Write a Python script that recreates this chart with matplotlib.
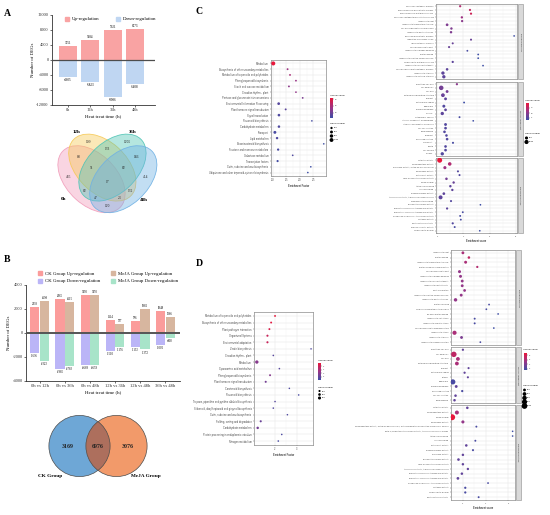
import numpy as np
import matplotlib
matplotlib.use('Agg')
import matplotlib.pyplot as plt
from matplotlib.patches import Ellipse, Circle, Rectangle, Patch
from matplotlib.colors import LinearSegmentedColormap

plt.rcParams['axes.unicode_minus'] = False
SERIF = ['Liberation Serif', 'DejaVu Serif']
SANS = ['Liberation Sans', 'DejaVu Sans']
plt.rcParams['font.family'] = SANS

# ------------------------------------------------------------------ data
# Panel A
a_times = ['0h', '12h', '36h', '48h']
a_up = [3751, 5184, 7921, 8173]
a_down = [-4605, -5823, -9986, -6408]
a_yticks = [-12000, -8000, -4000, 0, 4000, 8000, 12000]

# Panel A Venn (region code: 0h,12h,36h,48h)
venn4_names = ['0h', '12h', '36h', '48h']
venn4_regions = ['1000', '0100', '0010', '0001', '1100', '0110', '0011', '1110',
                 '0111', '1111', '1010', '0101', '1011', '1101', '1001']
venn4_counts = [455, 199, 1205, 414, 88, 133, 186, 51, 82, 17, 82, 132, 47, 23, 120]

# Panel B
b_pairs = ['0h vs 12h', '0h vs 36h', '0h vs 48h', '12h vs 36h', '12h vs 48h', '36h vs 48h']
b_ck_up = [2138, 2865, 3150, 1114, 976, 1848]
b_meja_up = [2698, 2615, 3170, 737, 1982, 1366]
b_ck_down = [-1636, -2985, -2668, -1510, -1133, -1002]
b_meja_down = [-2323, -2783, -2659, -1176, -1372, -408]
b_yticks = [-4000, -2000, 0, 2000, 4000]

# Panel B Venn
venn2_names = ['CK Group', 'MeJA Group']
venn2_counts = [3169, 6976, 3076]

# Panel C left (KEGG)
cl_terms = ['Metabolism', 'Biosynthesis of other secondary metabolites',
            'Metabolism of terpenoids and polyketides', 'Phenylpropanoid biosynthesis',
            'Starch and sucrose metabolism', 'Circadian rhythm - plant',
            'Pentose and glucuronate interconversions', 'Environmental Information Processing',
            'Plant hormone signal transduction', 'Signal transduction', 'Flavonoid biosynthesis',
            'Carbohydrate metabolism', 'Transport', 'Lipid metabolism',
            'Brassinosteroid biosynthesis', 'Fructose and mannose metabolism',
            'Galactose metabolism', 'Transcription factors',
            'Cutin, suberine and wax biosynthesis',
            'Ubiquinone and other terpenoid-quinone biosynthesis']
cl_factor = [1.01, 1.54, 1.63, 1.85, 1.59, 1.85, 2.10, 1.21, 1.47, 1.22,
             2.44, 1.22, 1.07, 1.15, 2.88, 1.19, 1.73, 1.17, 2.40, 2.29]
cl_logp = [32, 18, 20, 17, 15, 16, 12, 6, 7, 5, 3, 5, 4, 5, 2, 4, 5, 3, 2, 2]
cl_genes = [1300, 150, 130, 120, 140, 90, 110, 500, 160, 450, 60, 400, 600, 350, 50, 300, 80, 250, 60, 70]
cl_xticks = [1.0, 1.5, 2.0, 2.5]
cl_gene_legend = [300, 600, 900, 1200]

# Panel C right (GO)
cr_bp_terms = ['secondary metabolic process', 'phenylpropanoid biosynthetic process',
               'phenylpropanoid metabolic process', 'secondary metabolite biosynthetic process',
               'response to heat', 'response to temperature stimulus',
               'cell wall organization or biogenesis', 'response to abiotic stimulus',
               'flavonoid biosynthetic process', 'regulation of hormone levels',
               'lignin metabolic process', 'cellular response to heat',
               'response to hydrogen peroxide', 'protein folding',
               'response to reactive oxygen species', 'carbohydrate metabolic process',
               'response to high light intensity', 'cellular carbohydrate metabolic process',
               'response to stimulus', 'response to external stimulus']
cr_bp_score = [3.75, 4.5, 4.58, 3.88, 3.9, 2.75, 3.08, 3.05, 7.88, 4.58,
               3.18, 2.9, 4.3, 5.13, 5.13, 3.18, 5.5, 2.75, 2.43, 2.5]
cr_bp_logp = [14, 16, 17, 12, 10, 9, 9, 9, 3, 7, 7, 7, 4, 3, 3, 6, 3, 6, 6, 6]
cr_bp_genes = [200, 180, 190, 230, 210, 350, 250, 260, 60, 150, 140, 160, 90, 80, 80, 200, 70, 300, 600, 600]
cr_cc_terms = ['plant-type cell wall', 'cell periphery', 'cell wall',
               'external encapsulating structure', 'apoplast', 'extracellular region',
               'membrane', 'plasma membrane', 'vacuole', 'cytoplasmic vesicle',
               'intrinsic component of membrane', 'integral component of membrane',
               'cell-cell junction', 'plasmodesma', 'symplast', 'anchoring junction',
               'chloroplast', 'plastid', 'cell surface', 'nucleus']
cr_cc_score = [3.5, 2.3, 2.75, 2.43, 2.63, 4.05, 2.5, 2.63, 2.38, 3.7,
               4.75, 2.63, 2.63, 2.55, 2.7, 2.75, 3.2, 2.63, 2.63, 2.38]
cr_cc_logp = [10, 8, 8, 7, 6, 3, 5, 6, 6, 4, 3, 5, 5, 5, 5, 5, 4, 5, 5, 5]
cr_cc_genes = [200, 1200, 400, 800, 400, 100, 450, 350, 600, 120, 60, 400, 350, 330, 300, 320, 150, 330, 350, 600]
cr_mf_terms = ['catalytic activity', 'oxidoreductase activity',
               'hydrolase activity, acting on glycosyl bonds', 'peroxidase activity',
               'antioxidant activity', 'UDP-glycosyltransferase activity', 'heme binding',
               'tetrapyrrole binding', 'iron ion binding', 'monooxygenase activity',
               'transferase activity, transferring hexosyl groups', 'unfolded protein binding',
               'glucosyltransferase activity', 'quercetin 3-O-glucosyltransferase activity',
               'quercetin 7-O-glucosyltransferase activity',
               'xyloglucan:xyloglucosyl transferase activity', 'chitinase activity',
               'pectinesterase activity', 'enzyme inhibitor activity', 'carbohydrate binding']
cr_mf_score = [2.18, 2.95, 2.58, 3.58, 3.7, 2.7, 3.25, 3.0, 3.15, 2.5,
               2.25, 3.05, 5.3, 2.75, 3.95, 3.75, 3.8, 3.18, 3.33, 5.25]
cr_mf_logp = [20, 14, 12, 5, 5, 8, 7, 6, 6, 6, 6, 5, 3, 6, 4, 4, 4, 5, 4, 3]
cr_mf_genes = [1500, 700, 500, 150, 140, 300, 250, 260, 240, 350, 900, 150, 60, 200, 100, 110, 100, 180, 120, 60]
cr_xticks = [2, 4, 6, 8]
cr_gene_legend = [500, 1000]

# Panel D left (KEGG)
dl_terms = ['Metabolism of terpenoids and polyketides', 'Biosynthesis of other secondary metabolites',
            'Plant-pathogen interaction', 'Organismal Systems', 'Environmental adaptation',
            'Zeatin biosynthesis', 'Circadian rhythm - plant', 'Metabolism',
            'Cyanoamino acid metabolism', 'Phenylpropanoid biosynthesis',
            'Plant hormone signal transduction', 'Carotenoid biosynthesis',
            'Flavonoid biosynthesis', 'Tropane, piperidine and pyridine alkaloid biosynthesis',
            'Stilbenoid, diarylheptanoid and gingerol biosynthesis',
            'Cutin, suberine and wax biosynthesis', 'Folding, sorting and degradation',
            'Carbohydrate metabolism', 'Protein processing in endoplasmic reticulum',
            'Nitrogen metabolism']
dl_factor = [2.0, 1.82, 1.74, 1.65, 1.65, 3.66, 1.92, 1.16, 2.2, 1.77,
             1.57, 2.66, 3.09, 2.0, 1.92, 2.57, 1.34, 1.2, 2.31, 2.15]
dl_logp = [6, 5.8, 5.5, 5, 5, 1.5, 1.7, 3, 1.7, 3, 2.5, 1.5, 1.3, 1.7, 1.6, 1.5, 2.2, 2.5, 1.4, 1.3]
dl_genes = [120, 140, 150, 200, 200, 30, 60, 750, 60, 150, 180, 40, 40, 50, 50, 40, 200, 330, 50, 60]
dl_xticks = [2, 3]
dl_gene_legend = [200, 400, 600]

# Panel D right (GO)
dr_bp_terms = ['response to heat', 'protein folding', 'response to temperature stimulus',
               'protein complex oligomerization', 'cellular response to heat',
               'response to hydrogen peroxide', 'response to high light intensity',
               'response to light intensity', 'heat acclimation',
               'response to reactive oxygen species', 'response to abiotic stimulus',
               'protein refolding', 'chaperone-mediated protein folding',
               'de novo protein folding', 'response to salt stress',
               'response to osmotic stress', 'cellular response to unfolded protein',
               'response to stress', 'response to stimulus', 'response to misfolded protein']
dr_bp_score = [2.0, 2.53, 2.24, 3.27, 1.70, 1.79, 1.94, 1.94, 2.15, 1.85,
               1.35, 4.31, 4.07, 5.11, 3.04, 3.04, 4.73, 1.26, 1.88, 3.54]
dr_bp_logp = [6, 7, 6, 6.5, 5, 5, 5, 5, 5, 5, 5, 2, 2, 1.5, 2, 2, 1.5, 6, 4, 2]
dr_bp_genes = [200, 150, 220, 100, 230, 220, 200, 200, 180, 210, 320, 40, 40, 30, 60, 60, 30, 500, 200, 40]
dr_cc_terms = ['plant-type cell wall', 'cell periphery', 'cell wall',
               'external encapsulating structure', 'apoplast', 'extracellular region',
               'cytosol', 'membrane', 'plasma membrane', 'anchoring junction',
               'cell-cell junction', 'plasmodesma']
dr_cc_score = [2.0, 1.2, 1.56, 1.47, 2.5, 2.15, 2.44, 1.11, 1.41, 1.94, 1.35, 1.26]
dr_cc_logp = [3, 7, 6, 6, 3, 3, 3, 2, 3, 2, 3, 3]
dr_cc_genes = [100, 900, 400, 400, 80, 100, 80, 800, 200, 100, 150, 150]
dr_mf_terms = ['catalytic activity', 'oxidoreductase activity', 'heme binding',
               'peroxidase activity',
               'oxidoreductase activity, acting on paired donors, with incorporation or reduction of molecular oxygen',
               'beta-1,3-galactosyltransferase activity, transferring glycosyl groups',
               'tetrapyrrole binding', 'iron ion binding', 'antioxidant activity',
               'monooxygenase activity', 'hydrolase activity', 'glucosyltransferase activity',
               'UDP-glycosyltransferase activity',
               'transferase activity, transferring hexosyl groups',
               'quercetin 3-O-glucosyltransferase activity',
               'quercetin 7-O-glucosyltransferase activity',
               'xyloglucan:xyloglucosyl transferase activity', 'chitinase activity',
               'carbohydrate binding', 'pectinesterase activity']
dr_mf_score = [2.39, 1.47, 1.05, 2.0, 3.19, 6.39, 6.39, 3.10, 2.3, 2.89,
               2.0, 1.61, 2.0, 2.44, 1.91, 1.56, 4.22, 2.21, 2.21, 3.39]
dr_mf_logp = [3, 6, 9, 5, 2, 1.5, 1.5, 2, 3, 2, 3, 3, 3, 3, 3, 3, 2, 2, 2, 2]
dr_mf_genes = [150, 450, 1100, 250, 60, 20, 20, 60, 150, 80, 130, 160, 130, 120, 140, 180, 40, 100, 100, 60]
dr_xticks = [2, 4, 6]
dr_gene_legend = [200, 400, 600, 800, 1000]

# ------------------------------------------------------------------ figure
W, H = 550, 515
fig = plt.figure(figsize=(5.5, 5.15), dpi=100)


def add_ax(x0, y0, x1, y1, **kw):
    return fig.add_axes([x0 / W, 1 - y1 / H, (x1 - x0) / W, (y1 - y0) / H], **kw)


CMAP = LinearSegmentedColormap.from_list('br', ['#3d4ea6', '#9a3587', '#e8173b'])
C_UP = '#f9a3a3'
C_DOWN = '#bfd6f2'
C_CKUP = '#fb9c9b'
C_MJUP = '#d7b69f'
C_CKDN = '#bbb5f7'
C_MJDN = '#a8e4c9'

# overlay axes in pixel coordinates (panel letters, venn B, legends)
ov = add_ax(0, 0, W, H)
ov.set_xlim(0, W)
ov.set_ylim(H, 0)
ov.axis('off')
for lab, (x, y) in zip('ABCD', [(7, 13), (7, 259), (199, 12), (199, 263)]):
    ov.text(x, y, lab, fontsize=7, fontweight='bold', family=SERIF, ha='center', va='center')


def style_bar_axes(ax):
    for s in ['top', 'right']:
        ax.spines[s].set_visible(False)
    for s in ['left', 'bottom']:
        ax.spines[s].set_linewidth(0.6)
        ax.spines[s].set_color('#333333')
    ax.tick_params(length=1.5, width=0.5, pad=1, labelsize=3.2, colors='#333333')
    for t in ax.get_xticklabels() + ax.get_yticklabels():
        t.set_family(SERIF)


# ---------------- Panel A bars
axA = add_ax(52, 15, 155, 104.7)
xa = np.arange(len(a_times))
axA.bar(xa, a_up, width=0.8, color=C_UP, zorder=2)
axA.bar(xa, a_down, width=0.8, color=C_DOWN, zorder=2)
axA.axhline(0, color='#4d4d4d', lw=0.9, zorder=3)
for x, v in zip(xa, a_up):
    axA.text(x, v + 300, str(v), ha='center', va='bottom', fontsize=2.3, family=SERIF)
for x, v in zip(xa, a_down):
    axA.text(x, v - 300, str(v), ha='center', va='top', fontsize=2.3, family=SERIF)
axA.set_xlim(-0.72, 3.9)
axA.set_ylim(-12000, 12000)
axA.set_yticks(a_yticks)
axA.set_xticks(xa)
axA.set_xticklabels(a_times)
axA.set_ylabel('Number of DEGs', fontsize=3.5, family=SERIF, labelpad=1)
axA.set_xlabel('Heat treat time (h)', fontsize=3.5, family=SERIF, labelpad=1.5)
style_bar_axes(axA)
axA.legend(handles=[Patch(color=C_UP), Patch(color=C_DOWN)],
           labels=['Up-regulation', 'Down-regulation'], ncol=2, loc='center left',
           bbox_to_anchor=(0.1, 0.955), frameon=False, prop={'family': SERIF, 'size': 3.5},
           handlelength=0.9, handleheight=0.9, handletextpad=0.6, columnspacing=3.3, borderpad=0)

# ---------------- Panel A Venn
axV = add_ax(53.7, 109.6, 161.7, 225.6)
axV.set_xlim(0, 1)
axV.set_ylim(0, 1)
axV.axis('off')
v4_colors = ['#f19cba', '#f6c955', '#4fc4b5', '#6fb1e4']
v4_layout = [(0.350, 0.400, 140), (0.450, 0.500, 140), (0.544, 0.500, 40), (0.644, 0.400, 40)]
for (cx, cy, ang), col in zip(v4_layout, v4_colors):
    axV.add_patch(Ellipse((cx, cy), 0.72, 0.45, angle=ang, facecolor=col, alpha=0.42, edgecolor='none'))
    axV.add_patch(Ellipse((cx, cy), 0.72, 0.45, angle=ang, facecolor='none', edgecolor=col, lw=0.6, alpha=0.9))
v4_pos = {'0001': (0.85, 0.42), '0010': (0.68, 0.72), '0011': (0.77, 0.59), '0100': (0.32, 0.72),
          '0101': (0.71, 0.30), '0110': (0.50, 0.66), '0111': (0.65, 0.50), '1000': (0.14, 0.42),
          '1001': (0.50, 0.17), '1010': (0.29, 0.30), '1011': (0.39, 0.24), '1100': (0.23, 0.59),
          '1101': (0.61, 0.24), '1110': (0.35, 0.50), '1111': (0.50, 0.38)}
for code, cnt in zip(venn4_regions, venn4_counts):
    x, y = v4_pos[code]
    axV.text(x, y, str(cnt), ha='center', va='center', fontsize=2.6, family=SERIF, color='#222222')
for name, (x, y) in zip(venn4_names, [(0.09, 0.23), (0.21, 0.81), (0.73, 0.81), (0.83, 0.22)]):
    axV.text(x, y, name, ha='center', va='center', fontsize=3.6, fontweight='bold', family=SERIF)

# ---------------- Panel B bars
axB = add_ax(26, 285, 180, 381)
xb = np.arange(len(b_pairs))
bw = 0.36
axB.bar(xb - 0.19, b_ck_up, width=bw, color=C_CKUP, zorder=2)
axB.bar(xb + 0.19, b_meja_up, width=bw, color=C_MJUP, zorder=2)
axB.bar(xb - 0.19, b_ck_down, width=bw, color=C_CKDN, zorder=2)
axB.bar(xb + 0.19, b_meja_down, width=bw, color=C_MJDN, zorder=2)
axB.axhline(0, color='#555555', lw=1.4, zorder=3)
for off, vals in [(-0.19, b_ck_up), (0.19, b_meja_up)]:
    for x, v in zip(xb, vals):
        axB.text(x + off, v + 90, str(v), ha='center', va='bottom', fontsize=2.2, family=SERIF)
for off, vals in [(-0.19, b_ck_down), (0.19, b_meja_down)]:
    for x, v in zip(xb, vals):
        axB.text(x + off, v - 90, str(v), ha='center', va='top', fontsize=2.2, family=SERIF)
axB.set_xlim(-0.54, 5.58)
axB.set_ylim(-4000, 4000)
axB.set_yticks(b_yticks)
axB.set_xticks(xb)
axB.set_xticklabels(b_pairs)
axB.set_ylabel('Number of DEGs', fontsize=3.5, family=SERIF, labelpad=1)
axB.set_xlabel('Heat treat time (h)', fontsize=3.5, family=SERIF, labelpad=1.5)
style_bar_axes(axB)
axB.tick_params(axis='x', labelsize=3.3)
axB.legend(handles=[Patch(color=C_CKUP), Patch(color=C_CKDN), Patch(color=C_MJUP), Patch(color=C_MJDN)],
           labels=['CK Group Up-regulation', 'CK Group Down-regulation',
                   'MeJA Group Up-regulation', 'MeJA Group Down-regulation'],
           ncol=2, loc='upper left', bbox_to_anchor=(0.06, 1.17), frameon=False,
           prop={'family': SERIF, 'size': 3.5}, handlelength=0.9, handleheight=0.9,
           handletextpad=0.6, columnspacing=2.2, labelspacing=0.6, borderpad=0)

# ---------------- Panel B Venn (pixel coords on overlay)
c1 = Circle((79.5, 446), 30.6, facecolor='#6ea7d6', edgecolor='none')
c2 = Circle((116.5, 446), 30.6, facecolor='#f29a6a', edgecolor='none')
ov.add_patch(c1)
ov.add_patch(c2)
lens = Circle((116.5, 446), 30.6, facecolor='#ad6f5d', edgecolor='none')
ov.add_patch(lens)
lens.set_clip_path(c1)
ov.add_patch(Circle((79.5, 446), 30.6, facecolor='none', edgecolor='#4d4d4d', lw=0.5))
ov.add_patch(Circle((116.5, 446), 30.6, facecolor='none', edgecolor='#4d4d4d', lw=0.5))
for x, cnt in zip([68, 98, 128], venn2_counts):
    ov.text(x, 446, str(cnt), ha='center', va='center', fontsize=4.2, fontweight='bold',
            family=SERIF, color='#222222')
for x, name in zip([50, 146], venn2_names):
    ov.text(x, 476, name, ha='center', va='center', fontsize=3.8, fontweight='bold', family=SERIF)


# ---------------- dot plots
def style_dot_axes(ax, xticks, show_x=True, fs=1.6):
    ax.set_xticks(xticks)
    mids = [(a + b) / 2 for a, b in zip(xticks[:-1], xticks[1:])]
    ax.set_xticks(mids, minor=True)
    ax.grid(True, which='major', color='#e6e6e6', lw=0.35, zorder=0)
    ax.grid(True, which='minor', axis='x', color='#f0f0f0', lw=0.25, zorder=0)
    ax.set_axisbelow(True)
    for s in ax.spines.values():
        s.set_color('#8c8c8c')
        s.set_linewidth(0.5)
    ax.tick_params(which='major', length=1, width=0.3, pad=0.8, labelsize=fs, colors='#4d4d4d')
    ax.tick_params(which='minor', length=0)
    if not show_x:
        ax.tick_params(axis='x', labelbottom=False, length=0)


def dot_panel(ax, terms, xs, logp, genes, vmin, vmax, k, xlim, xticks, show_x=True, fs=1.6):
    n = len(terms)
    y = np.arange(n)[::-1]
    sc = ax.scatter(xs, y, s=1.0 + np.asarray(genes, float) * k, c=logp, cmap=CMAP,
                    vmin=vmin, vmax=vmax, edgecolors='none', zorder=3)
    ax.set_ylim(-0.6, n - 0.4)
    ax.set_xlim(*xlim)
    ax.set_yticks(y)
    ax.set_yticklabels(terms)
    style_dot_axes(ax, xticks, show_x, fs)
    return sc


def color_legend(sc, x0, y0, x1, y1, ticks, title_xy):
    cax = add_ax(x0, y0, x1, y1)
    cb = fig.colorbar(sc, cax=cax, ticks=ticks)
    cb.outline.set_visible(False)
    cax.tick_params(labelsize=1.6, length=0.8, width=0.3, pad=0.8, colors='#4d4d4d')
    ov.text(title_xy[0], title_xy[1], '-log10(p.value)', fontsize=1.7, ha='left', va='bottom')


def gene_legend(values, k, x, ytitle, ys):
    ov.text(x, ytitle, 'Gene number', fontsize=1.7, ha='left', va='center')
    for v, yy in zip(values, ys):
        ov.scatter([x + 1.5], [yy], s=1.0 + v * k, c='black', edgecolors='none')
        ov.text(x + 4, yy, str(v), fontsize=1.6, ha='left', va='center')


def strip(x0, y0, x1, y1, label):
    ov.add_patch(Rectangle((x0, y0), x1 - x0, y1 - y0, facecolor='#d9d9d9', edgecolor='#8c8c8c', lw=0.4))
    ov.text((x0 + x1) / 2, (y0 + y1) / 2, label, rotation=-90, fontsize=1.6, ha='center', va='center',
            color='#333333')


# C left
kcl = 0.0057
axCL = add_ax(271, 60, 326, 176)
sc = dot_panel(axCL, cl_terms, cl_factor, cl_logp, cl_genes, 2, 32, kcl, (0.926, 2.963), cl_xticks, fs=1.8)
axCL.set_xlabel('Enrichment Factor', fontsize=1.9, labelpad=1)
color_legend(sc, 330, 98, 333, 118, [10, 20, 30], (330, 96))
gene_legend(cl_gene_legend, kcl, 330, 124, [128, 132, 136, 140])

# C right
kcr = 0.008
cr_sets = [(cr_bp_terms, cr_bp_score, cr_bp_logp, cr_bp_genes, (4, 79), 'biological process'),
           (cr_cc_terms, cr_cc_score, cr_cc_logp, cr_cc_genes, (82, 156), 'cellular component'),
           (cr_mf_terms, cr_mf_score, cr_mf_logp, cr_mf_genes, (158, 233), 'molecular function')]
for i, (t, s_, lp, g, (y0, y1), lab) in enumerate(cr_sets):
    ax = add_ax(436, y0, 517, y1)
    sc = dot_panel(ax, t, s_, lp, g, 3, 20, kcr, (1.9, 8.1), cr_xticks, show_x=(i == 2), fs=1.5)
    strip(517.5, y0, 522.5, y1, lab)
    if i == 2:
        ax.set_xlabel('Enrichment score', fontsize=1.9, labelpad=1)
color_legend(sc, 526, 103, 529, 120, [5, 10, 15], (525, 101))
gene_legend(cr_gene_legend, kcr, 525, 133, [138, 142])

# D left
kdl = 0.0065
axDL = add_ax(254, 312, 313, 445)
sc = dot_panel(axDL, dl_terms, dl_factor, dl_logp, dl_genes, 1, 6, kdl, (1.03, 3.75), dl_xticks, fs=1.8)
axDL.set_xlabel('Enrichment Factor', fontsize=1.9, labelpad=1)
color_legend(sc, 318, 363, 321, 380, [2, 3, 4, 5], (318, 361))
gene_legend(dl_gene_legend, kdl, 318, 387, [391, 394.5, 398])

# D right
kdr = 0.016
dr_sets = [(dr_bp_terms, dr_bp_score, dr_bp_logp, dr_bp_genes, (250, 345), 'biological process'),
           (dr_cc_terms, dr_cc_score, dr_cc_logp, dr_cc_genes, (347, 403), 'cellular component'),
           (dr_mf_terms, dr_mf_score, dr_mf_logp, dr_mf_genes, (405, 500), 'molecular function')]
for i, (t, s_, lp, g, (y0, y1), lab) in enumerate(dr_sets):
    ax = add_ax(451, y0, 515, y1)
    sc = dot_panel(ax, t, s_, lp, g, 1.5, 9, kdr, (0.95, 6.6), dr_xticks, show_x=(i == 2), fs=1.5)
    strip(515.5, y0, 520.5, y1, lab)
    if i == 2:
        ax.set_xlabel('Enrichment score', fontsize=1.9, labelpad=1)
color_legend(sc, 524, 353, 527, 370, [2, 4, 6, 8], (523, 350))
gene_legend(dr_gene_legend, kdr, 523, 386, [390, 394, 398, 402, 406])

fig.savefig('out.png', dpi=100)
